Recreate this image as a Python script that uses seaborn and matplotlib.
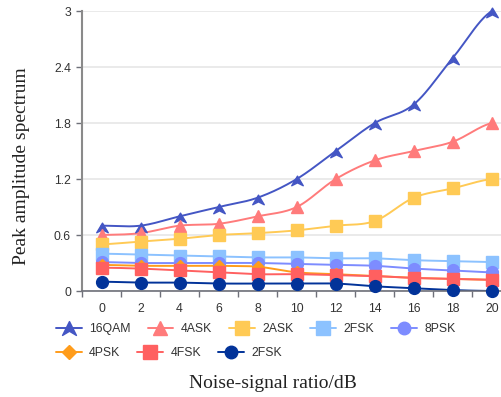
import numpy as np
import pandas as pd
import matplotlib
matplotlib.use("Agg")
import matplotlib.pyplot as plt
from matplotlib.lines import Line2D
from matplotlib.path import Path
import seaborn as sns

# Noise-signal ratio (dB)
snr = [0, 2, 4, 6, 8, 10, 12, 14, 16, 18, 20]

# Peak amplitude spectrum per modulation type
qam16 = [0.70, 0.70, 0.80, 0.90, 1.00, 1.20, 1.50, 1.80, 2.00, 2.50, 3.00]
ask4 = [0.60, 0.62, 0.70, 0.72, 0.80, 0.90, 1.20, 1.40, 1.50, 1.60, 1.80]
ask2 = [0.50, 0.53, 0.56, 0.60, 0.62, 0.65, 0.70, 0.75, 1.00, 1.10, 1.20]
fsk2_a = [0.40, 0.39, 0.38, 0.37, 0.36, 0.36, 0.35, 0.35, 0.33, 0.32, 0.31]
psk8 = [0.31, 0.30, 0.30, 0.30, 0.30, 0.29, 0.28, 0.27, 0.24, 0.22, 0.20]
psk4 = [0.28, 0.27, 0.27, 0.27, 0.26, 0.20, 0.18, 0.16, 0.14, 0.13, 0.12]
fsk4 = [0.25, 0.24, 0.22, 0.20, 0.18, 0.18, 0.17, 0.16, 0.14, 0.13, 0.12]
fsk2_b = [0.10, 0.09, 0.09, 0.08, 0.08, 0.08, 0.08, 0.05, 0.03, 0.01, 0.00]

labels = ["16QAM", "4ASK", "2ASK", "2FSK", "8PSK", "4PSK", "4FSK", "2FSK"]
series = [qam16, ask4, ask2, fsk2_a, psk8, psk4, fsk4, fsk2_b]
colors = ["#4456C4", "#FF7B7B", "#FFCA55", "#8CC2FF", "#7D8CFF",
          "#FF9C1B", "#FF6060", "#023399"]

# notched arrow-head symbol
arrow = Path([(0, 0.35), (0.6, -0.65), (0, -0.35), (-0.6, -0.65), (0, 0.35)],
             [Path.MOVETO, Path.LINETO, Path.LINETO, Path.LINETO, Path.CLOSEPOLY])
arrow_leg = Path([(0, 0.5), (0.5, -0.5), (0, -0.2), (-0.5, -0.5), (0, 0.5)],
                 [Path.MOVETO, Path.LINETO, Path.LINETO, Path.LINETO, Path.CLOSEPOLY])
markers = [arrow, "^", "s", "s", "o", "D", "s", "o"]
msizes = [9, 9, 8.5, 8.5, 8.5, 6.5, 8.5, 8.5]
leg_markers = [arrow_leg, "^", "s", "s", "o", "D", "s", "o"]
leg_sizes = [10, 10, 9.5, 9.5, 9, 7.5, 9.5, 9]


def smooth(xs, ys, n=24):
    """Catmull-Rom interpolation through the points."""
    xs = np.asarray(xs, float)
    ys = np.asarray(ys, float)
    px = np.concatenate([[2 * xs[0] - xs[1]], xs, [2 * xs[-1] - xs[-2]]])
    py = np.concatenate([[ys[0]], ys, [ys[-1]]])
    ox, oy = [], []
    t = np.linspace(0, 1, n, endpoint=False)
    for i in range(1, len(px) - 2):
        for p, out in ((px, ox), (py, oy)):
            p0, p1, p2, p3 = p[i - 1], p[i], p[i + 1], p[i + 2]
            out.extend(0.5 * ((2 * p1) + (-p0 + p2) * t
                              + (2 * p0 - 5 * p1 + 4 * p2 - p3) * t ** 2
                              + (-p0 + 3 * p1 - 3 * p2 + p3) * t ** 3))
    ox.append(xs[-1])
    oy.append(ys[-1])
    return np.array(ox), np.array(oy)


sns.set_style("white")
plt.rcParams["font.family"] = ["Liberation Sans", "DejaVu Sans"]

fig = plt.figure(figsize=(5.02, 3.97), dpi=100)
ax = fig.add_axes([82 / 502, 1 - 291 / 397, (511.5 - 82) / 502, 280 / 397])

for vals, lab, col, mk, ms in zip(series, labels, colors, markers, msizes):
    sx, sy = smooth(snr, vals)
    sns.lineplot(x=sx, y=sy, ax=ax, color=col, lw=1.4, sort=False,
                 estimator=None, legend=False, zorder=2)
    ax.plot(snr, vals, ls="none", marker=mk, ms=ms, color=col,
            mec=col, zorder=3, clip_on=False)

ax.set_xlim(-1, 21)
ax.set_ylim(0, 3)
ax.set_xticks(snr)
ax.set_xticklabels([str(v) for v in snr])
ax.set_xticks(np.arange(-1, 22, 2), minor=True)
ax.set_yticks([0, 0.6, 1.2, 1.8, 2.4, 3])
ax.set_yticklabels(["0", "0.6", "1.2", "1.8", "2.4", "3"])
ax.tick_params(axis="x", which="major", length=0, pad=9, labelsize=8.8,
               labelcolor="#333333")
ax.tick_params(axis="x", which="minor", length=4, width=1, color="#6E7079",
               direction="out", bottom=True)
ax.tick_params(axis="y", length=4, width=1, color="#6E7079", direction="out",
               left=True, pad=4, labelsize=8.8, labelcolor="#333333")
ax.grid(axis="y", color="#E6E6E6", lw=1.2)
ax.grid(axis="x", visible=False)
for s in ("top", "right"):
    ax.spines[s].set_visible(False)
ax.spines["left"].set_color("#8A8A8A")
ax.spines["left"].set_linewidth(1.5)
ax.spines["bottom"].set_color("#6E7079")
ax.spines["bottom"].set_linewidth(1.2)

fig.text(22 / 502, 1 - 166 / 397, "Peak amplitude spectrum",
         family="Liberation Serif", fontsize=14, color="#222222",
         rotation=90, ha="center", va="center")
fig.text(273 / 502, 1 - 383 / 397, "Noise-signal ratio/dB",
         family="Liberation Serif", fontsize=14, color="#222222",
         ha="center", va="center")

handles = [Line2D([0], [0], color=c, lw=1.4, marker=m, ms=s, mec=c)
           for c, m, s in zip(colors, leg_markers, leg_sizes)]
leg_kw = dict(frameon=False, fontsize=8.8, handlelength=2.1, handletextpad=0.62,
              columnspacing=1.38, borderpad=0, borderaxespad=0,
              labelcolor="#333333")
leg1 = fig.legend(handles[:5], labels[:5], ncol=5, loc="center left",
                  bbox_to_anchor=(56 / 502, 1 - 329 / 397), **leg_kw)
leg2 = fig.legend(handles[5:], labels[5:], ncol=3, loc="center left",
                  bbox_to_anchor=(56 / 502, 1 - 353 / 397), **leg_kw)

fig.savefig("out.png", dpi=100)
